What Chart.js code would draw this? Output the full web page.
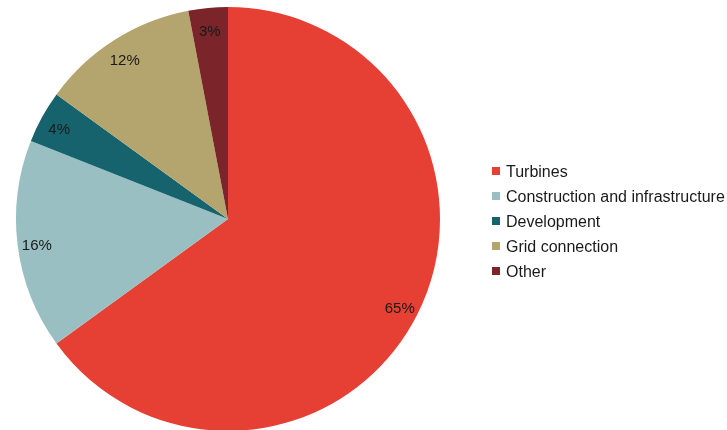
<!DOCTYPE html>
<html>
<head>
<meta charset="utf-8">
<script src="https://cdn.jsdelivr.net/npm/chart.js@4"></script>
<style>
  html, body { margin: 0; padding: 0; background: #fff; overflow: hidden; }
  #wrap { position: relative; width: 727px; height: 430px; overflow: hidden; }
  #legend { position: absolute; left: 492px; top: 161px; font-family: "Liberation Sans", Arial, sans-serif; font-size: 16px; color: #1a1a1a; }
  #legend div { height: 25px; line-height: 22px; white-space: nowrap; }
  #legend span { display: inline-block; width: 8px; height: 8px; margin-right: 6px; vertical-align: 2px; }
</style>
</head>
<body>
<div id="wrap">
  <canvas id="pieCosts" width="727" height="432"></canvas>
  <div id="legend"></div>
</div>
<script>
const labels = ['Turbines', 'Construction and infrastructure', 'Development', 'Grid connection', 'Other'];
const shares = [65, 16, 4, 12, 3];
const colors = ['#e63f34', '#99bfc3', '#17636d', '#b3a56d', '#7b2429'];

// percent labels drawn inside each slice
const sliceLabels = {
    id: 'sliceLabels',
    afterDatasetsDraw(chart) {
        const ctx = chart.ctx;
        const meta = chart.getDatasetMeta(0);
        ctx.save();
        ctx.font = '15px "Liberation Sans", Arial, sans-serif';
        ctx.fillStyle = '#1a1a1a';
        ctx.textAlign = 'center';
        ctx.textBaseline = 'middle';
        meta.data.forEach((arc, i) => {
            const mid = (arc.startAngle + arc.endAngle) / 2;
            const r = arc.outerRadius * 0.9;
            ctx.fillText(shares[i] + '%', arc.x + Math.cos(mid) * r * 1.01, arc.y + 3 + Math.sin(mid) * r);
        });
        ctx.restore();
    }
};

const ctx = document.getElementById('pieCosts').getContext('2d');
const myPie = new Chart(ctx, {
    type: 'pie',
    data: {
        labels: labels,
        datasets: [{
            data: shares,
            backgroundColor: colors,
            borderWidth: 0
        }]
    },
    options: {
        responsive: false,
        animation: false,
        layout: { padding: { left: 16, right: 287, top: 7, bottom: 1 } },
        plugins: {
            legend: { display: false },
            tooltip: { enabled: false }
        }
    },
    plugins: [sliceLabels]
});

const legendEl = document.getElementById('legend');
labels.forEach((name, i) => {
    const row = document.createElement('div');
    const box = document.createElement('span');
    box.style.background = colors[i];
    row.appendChild(box);
    row.appendChild(document.createTextNode(name));
    legendEl.appendChild(row);
});
</script>
</body>
</html>
